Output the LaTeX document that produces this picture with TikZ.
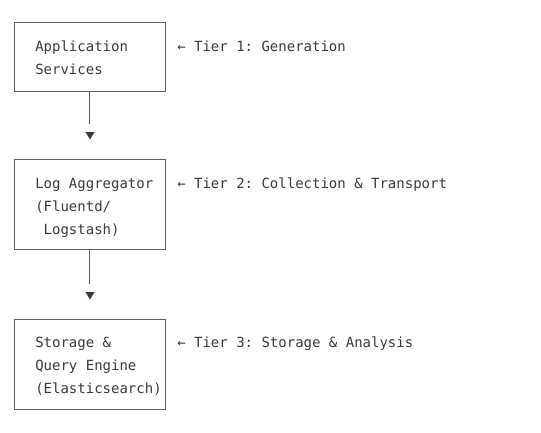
\documentclass[tikz,border=0pt]{standalone}
\usepackage{fontspec}
\setmonofont{DejaVu Sans Mono}
\begin{document}
\begin{tikzpicture}[x=0.75pt,y=-0.75pt,
  every node/.style={font=\ttfamily\fontsize{10.5}{17.25}\selectfont, text=txtc},
  tierbox/.style={draw=linec, line width=0.65pt, minimum width=113.25pt, inner sep=0pt},
  boxtext/.style={anchor=west, align=left, inner sep=0pt},
  tierlabel/.style={anchor=base west, inner sep=0pt},
  conn/.style={draw=linec, line width=0.65pt},
  tipfill/.style={fill=txtc}]
\definecolor{txtc}{HTML}{3A3A3A}
\definecolor{linec}{HTML}{606060}
\useasboundingbox (0,0) rectangle (541,432);
\fill[white] (0,0) rectangle (541,432);
% boxes
\node[tierbox, minimum height=51.75pt] (b1) at (89.5,56.5) {};
\node[tierbox, minimum height=67.5pt] (b2) at (89.5,204) {};
\node[tierbox, minimum height=67.5pt] (b3) at (89.5,364) {};
% box texts
\node[boxtext] (t1) at (35,57.5) {Application\\Services};
\node[boxtext] (t2) at (35,207.5) {Log Aggregator\\(Fluentd/\\\phantom{(}Logstash)};
\node[boxtext] (t3) at (35,366.5) {Storage \&\\Query Engine\\(Elasticsearch)};
% tier labels
\node[tierlabel] (l1) at (177,51) {← Tier 1: Generation};
\node[tierlabel] (l2) at (177,188) {← Tier 2: Collection \& Transport};
\node[tierlabel] (l3) at (177,347) {← Tier 3: Storage \& Analysis};
% connectors
\coordinate (e1) at (89.5,124);
\coordinate (e2) at (89.5,284);
\draw[conn] (b1.south) -- (e1);
\draw[conn] (b2.south) -- (e2);
\fill[tipfill] (85.5,132) -- (94.5,132) -- (90,139.5) -- cycle;
\fill[tipfill] (85.5,292) -- (94.5,292) -- (90,299.5) -- cycle;
\end{tikzpicture}
\end{document}
